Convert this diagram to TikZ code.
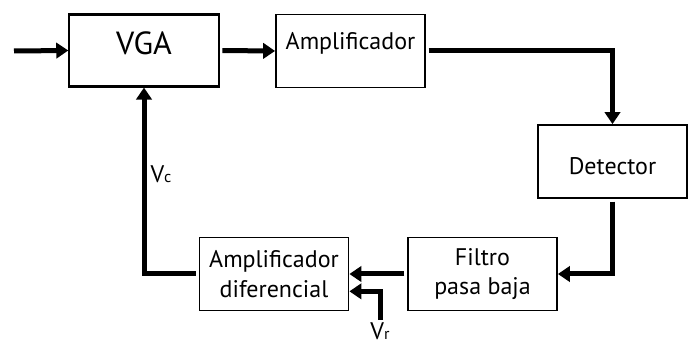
\documentclass[tikz,border=0pt]{standalone}
\usepackage{fontspec}
\setmainfont{PT Sans}
\usetikzlibrary{arrows.meta}

\tikzset{
  block/.style={draw, line width=1.1pt, minimum width=112pt, minimum height=55pt,
    inner sep=0pt, align=center, font=\fontsize{18}{22}\selectfont},
  signal/.style={line width=3.75pt, -{Triangle[length=9pt, width=11.5pt]}},
  sig/.style={inner sep=2pt, font=\fontsize{18}{22}\selectfont}
}
\newcommand{\sigsub}[1]{{\fontsize{12}{14}\selectfont #1}}

\begin{document}
\begin{tikzpicture}[x=0.75pt, y=-0.75pt]
\useasboundingbox (0,0) rectangle (694,353);

\node[block, line width=1.6pt, minimum height=54pt, font=\fontsize{24}{28}\selectfont,
  text height=17pt, text depth=10.25pt] (vga) at (144,50.5) {VGA};
\node[block, text height=14pt, text depth=15.5pt] (amp) at (350.5,51) {Amplificador};
\node[block, text height=20pt, text depth=0pt] (det) at (612.5,161.5) {Detector};
\node[block] (filtro) at (482.5,274) {Filtro\\pasa baja};
\node[block] (dif) at (274,274) {Amplificador\\diferencial};

\node[sig] (vc) at (161,174) {V\sigsub{c}};
\node[sig] (vr) at (380,331) {V\sigsub{r}};
\coordinate (in) at (14,51);

\draw[signal] (in) -- (vga.west);
\draw[signal, shorten <=2pt] (vga.east) -- (amp.west);
\draw[signal, shorten <=2pt] (amp.east) -| (det.north);
\draw[signal, shorten <=2pt] (det.south) |- (filtro.east);
\draw[signal, shorten <=2pt] (filtro.west) -- (dif.east);
\draw[signal] (vr.north) |- ([yshift=-13pt]dif.east);
\draw[signal, shorten <=2pt] (dif.west) -| (vga.south);

\end{tikzpicture}
\end{document}
